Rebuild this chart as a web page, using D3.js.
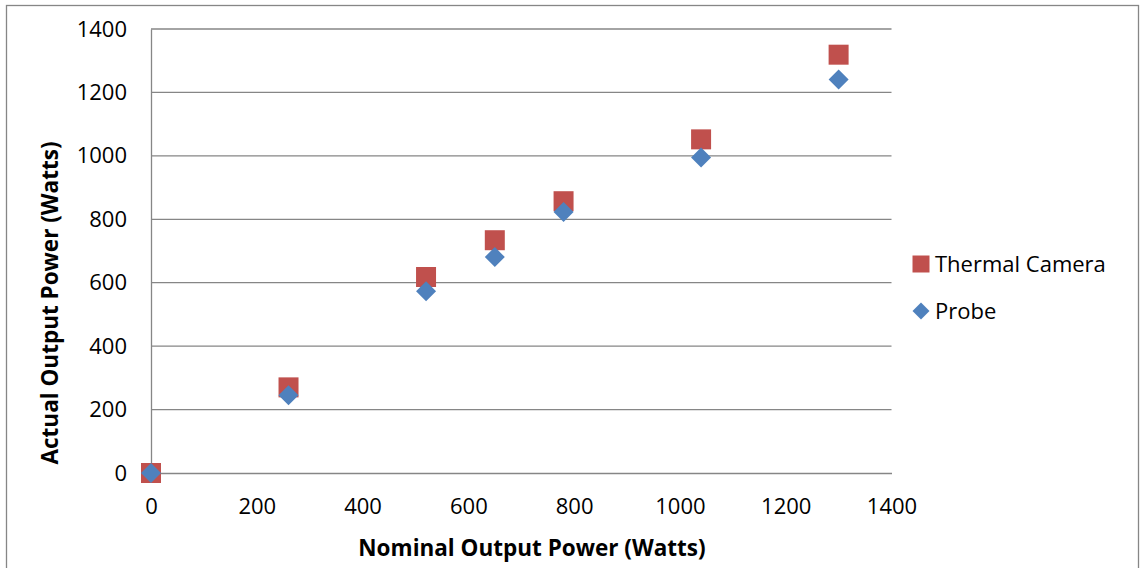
<!DOCTYPE html>
<html>
<head>
<meta charset="utf-8">
<script src="https://cdn.jsdelivr.net/npm/d3@7"></script>
<style>
  body { margin: 0; background: #fff; }
  text { font-family: "Open Sans", sans-serif; fill: #000; }
</style>
</head>
<body>
<div id="chart"></div>
<script>
// nominal power settings (x) and measured output (y)
const nominal = [0, 260, 520, 650, 780, 1040, 1300];
const thermalCamera = [0, 270, 618, 734, 857, 1052, 1319];
const probe = [0, 245, 573, 681, 823, 995, 1241];
const xTicks = [0, 200, 400, 600, 800, 1000, 1200, 1400];
const yTicks = [0, 200, 400, 600, 800, 1000, 1200, 1400];
const seriesNames = ['Thermal Camera', 'Probe'];

const width = 1141, height = 568;
const margin = { left: 151, right: 250, top: 29, bottom: 95 };

const svg = d3.select('#chart').append('svg')
   .attr('width', width)
   .attr('height', height);

// outer chart border
svg.append('rect')
   .attr('x', 6.5).attr('y', 5.5)
   .attr('width', 1132).attr('height', 570)
   .attr('fill', 'none')
   .attr('stroke', '#868686')
   .attr('stroke-width', 1.3);

const x = d3.scaleLinear().domain([0, 1400]).range([margin.left, width - margin.right + 0.5]);
const y = d3.scaleLinear().domain([0, 1400]).range([height - margin.bottom, margin.top]);

// horizontal gridlines
svg.append('g')
   .selectAll('line')
   .data(yTicks.slice(1))
   .join('line')
      .attr('x1', x(0)).attr('x2', x(1400))
      .attr('y1', d => y(d)).attr('y2', d => y(d))
      .attr('stroke', '#868686')
      .attr('stroke-width', 1.3);

// axes
const xAxis = svg.append('g')
   .attr('transform', `translate(0,${y(0)})`)
   .call(d3.axisBottom(x).tickValues(xTicks).tickFormat(d3.format('d')).tickSize(0).tickPadding(28));
const yAxis = svg.append('g')
   .attr('transform', `translate(${x(0)},0)`)
   .call(d3.axisLeft(y).tickValues(yTicks).tickFormat(d3.format('d')).tickSize(0).tickPadding(24));

[xAxis, yAxis].forEach(g => {
   g.select('.domain').attr('stroke', '#868686').attr('stroke-width', 1.3);
   g.selectAll('text').attr('font-size', 22).attr('font-family', '"Open Sans", sans-serif').attr('fill', '#000');
});
xAxis.selectAll('text').attr('dy', '0.6em');

// axis titles
svg.append('text')
   .attr('x', 532).attr('y', 556)
   .attr('text-anchor', 'middle')
   .attr('font-size', 22.5)
   .attr('font-weight', 'bold')
   .text('Nominal Output Power (Watts)');

svg.append('text')
   .attr('transform', 'translate(58,303) rotate(-90)')
   .attr('text-anchor', 'middle')
   .attr('font-size', 22.5)
   .attr('font-weight', 'bold')
   .text('Actual Output Power (Watts)');

const square = d3.symbol().type(d3.symbolSquare).size(400);
const diamond = d3.symbol().type(d3.symbolSquare).size(200);

// thermal camera squares
svg.append('g')
   .selectAll('path')
   .data(nominal.map((n, i) => [n, thermalCamera[i]]))
   .join('path')
      .attr('d', square)
      .attr('transform', d => `translate(${x(d[0])},${y(d[1])})`)
      .attr('fill', '#C0504D');

// probe diamonds
svg.append('g')
   .selectAll('path')
   .data(nominal.map((n, i) => [n, probe[i]]))
   .join('path')
      .attr('d', diamond)
      .attr('transform', d => `translate(${x(d[0])},${y(d[1])}) rotate(45)`)
      .attr('fill', '#4F81BD');

// legend
const legend = svg.append('g').attr('transform', 'translate(921,264)');
legend.append('path')
   .attr('d', d3.symbol().type(d3.symbolSquare).size(289))
   .attr('fill', '#C0504D');
legend.append('path')
   .attr('d', d3.symbol().type(d3.symbolSquare).size(144))
   .attr('transform', 'translate(0,47) rotate(45)')
   .attr('fill', '#4F81BD');
legend.selectAll('text')
   .data(seriesNames)
   .join('text')
      .attr('x', 14)
      .attr('y', (d, i) => i * 47 + 8)
      .attr('font-size', 22)
      .text(d => d);
</script>
</body>
</html>
